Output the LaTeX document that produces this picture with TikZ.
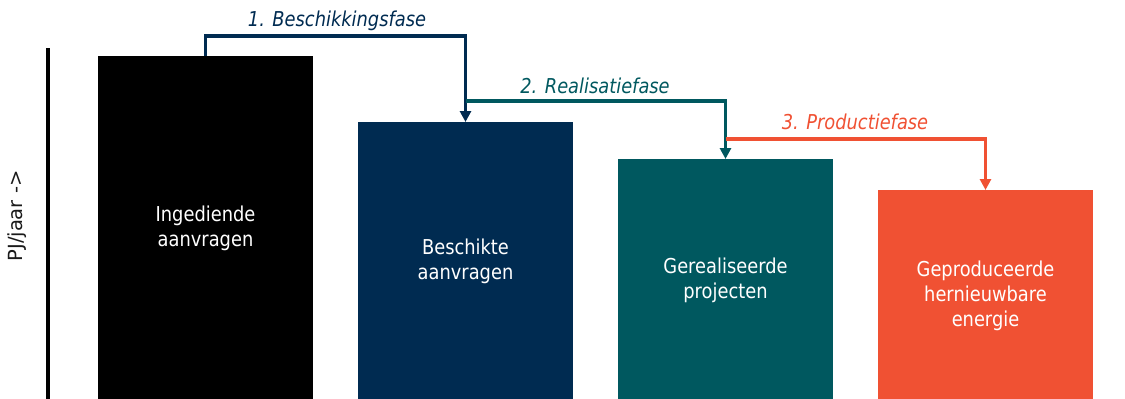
\documentclass[tikz,border=0pt]{standalone}
\usepackage{fontspec}
\setmainfont{DejaVu Sans}[FakeStretch=0.87]
\newfontfamily\axisfont{DejaVu Sans}
\usetikzlibrary{arrows.meta}
\definecolor{navy}{HTML}{002B51}
\definecolor{teal}{HTML}{00585F}
\definecolor{orng}{HTML}{F05133}
\definecolor{axisgray}{HTML}{1A1A1A}
\begin{document}
\begin{tikzpicture}[x=1pt,y=-1pt,
  bar/.style={anchor=north west, minimum width=215pt, inner sep=0pt, outer sep=0pt,
    text=white, font=\fontsize{20.5}{25}\selectfont, align=center},
  phase/.style={line width=3.4pt, -{Triangle[width=11pt,length=11pt]}},
  phaselabel/.style={font=\fontsize{20.5}{24}\selectfont\itshape, anchor=base}]
\useasboundingbox (0,0) rectangle (1125,399);
% axis
\coordinate (axtop) at (48,48);
\coordinate (axbot) at (48,401);
\draw[line width=4.2pt, black] (axtop) -- (axbot);
\node[rotate=90, font=\axisfont\fontsize{19.5}{22}\selectfont, text=axisgray] (axlab) at (17,216) {PJ/jaar ->};
% bars
\node[bar, fill=black, minimum height=345pt] (b1) at (98,56) {Ingediende\\aanvragen};
\node[bar, fill=navy, minimum height=279pt] (b2) at (358,122) {Beschikte\\aanvragen};
\node[bar, fill=teal, minimum height=242pt] (b3) at (618,159) {Gerealiseerde\\projecten};
\node[bar, fill=orng, minimum height=211pt] (b4) at (878,190) {Geproduceerde\\hernieuwbare\\energie};
% connector levels
\coordinate (y1) at (0,36);
\coordinate (y2) at (0,101);
\coordinate (y3) at (0,139);
\coordinate (j2) at (b2.north |- y2);
\coordinate (j3) at (b3.north |- y3);
\draw[phase, navy] (b1.north) -- (b1.north |- y1) -| (b2.north);
\draw[phase, teal] (j2) -| (b3.north);
\draw[phase, orng] (j3) -| (b4.north);
% labels
\node[phaselabel, text=navy] (l1) at (337,26) {1. Beschikkingsfase};
\node[phaselabel, text=teal] (l2) at (595,93) {2. Realisatiefase};
\node[phaselabel, text=orng] (l3) at (855,129) {3. Productiefase};
\end{tikzpicture}
\end{document}
